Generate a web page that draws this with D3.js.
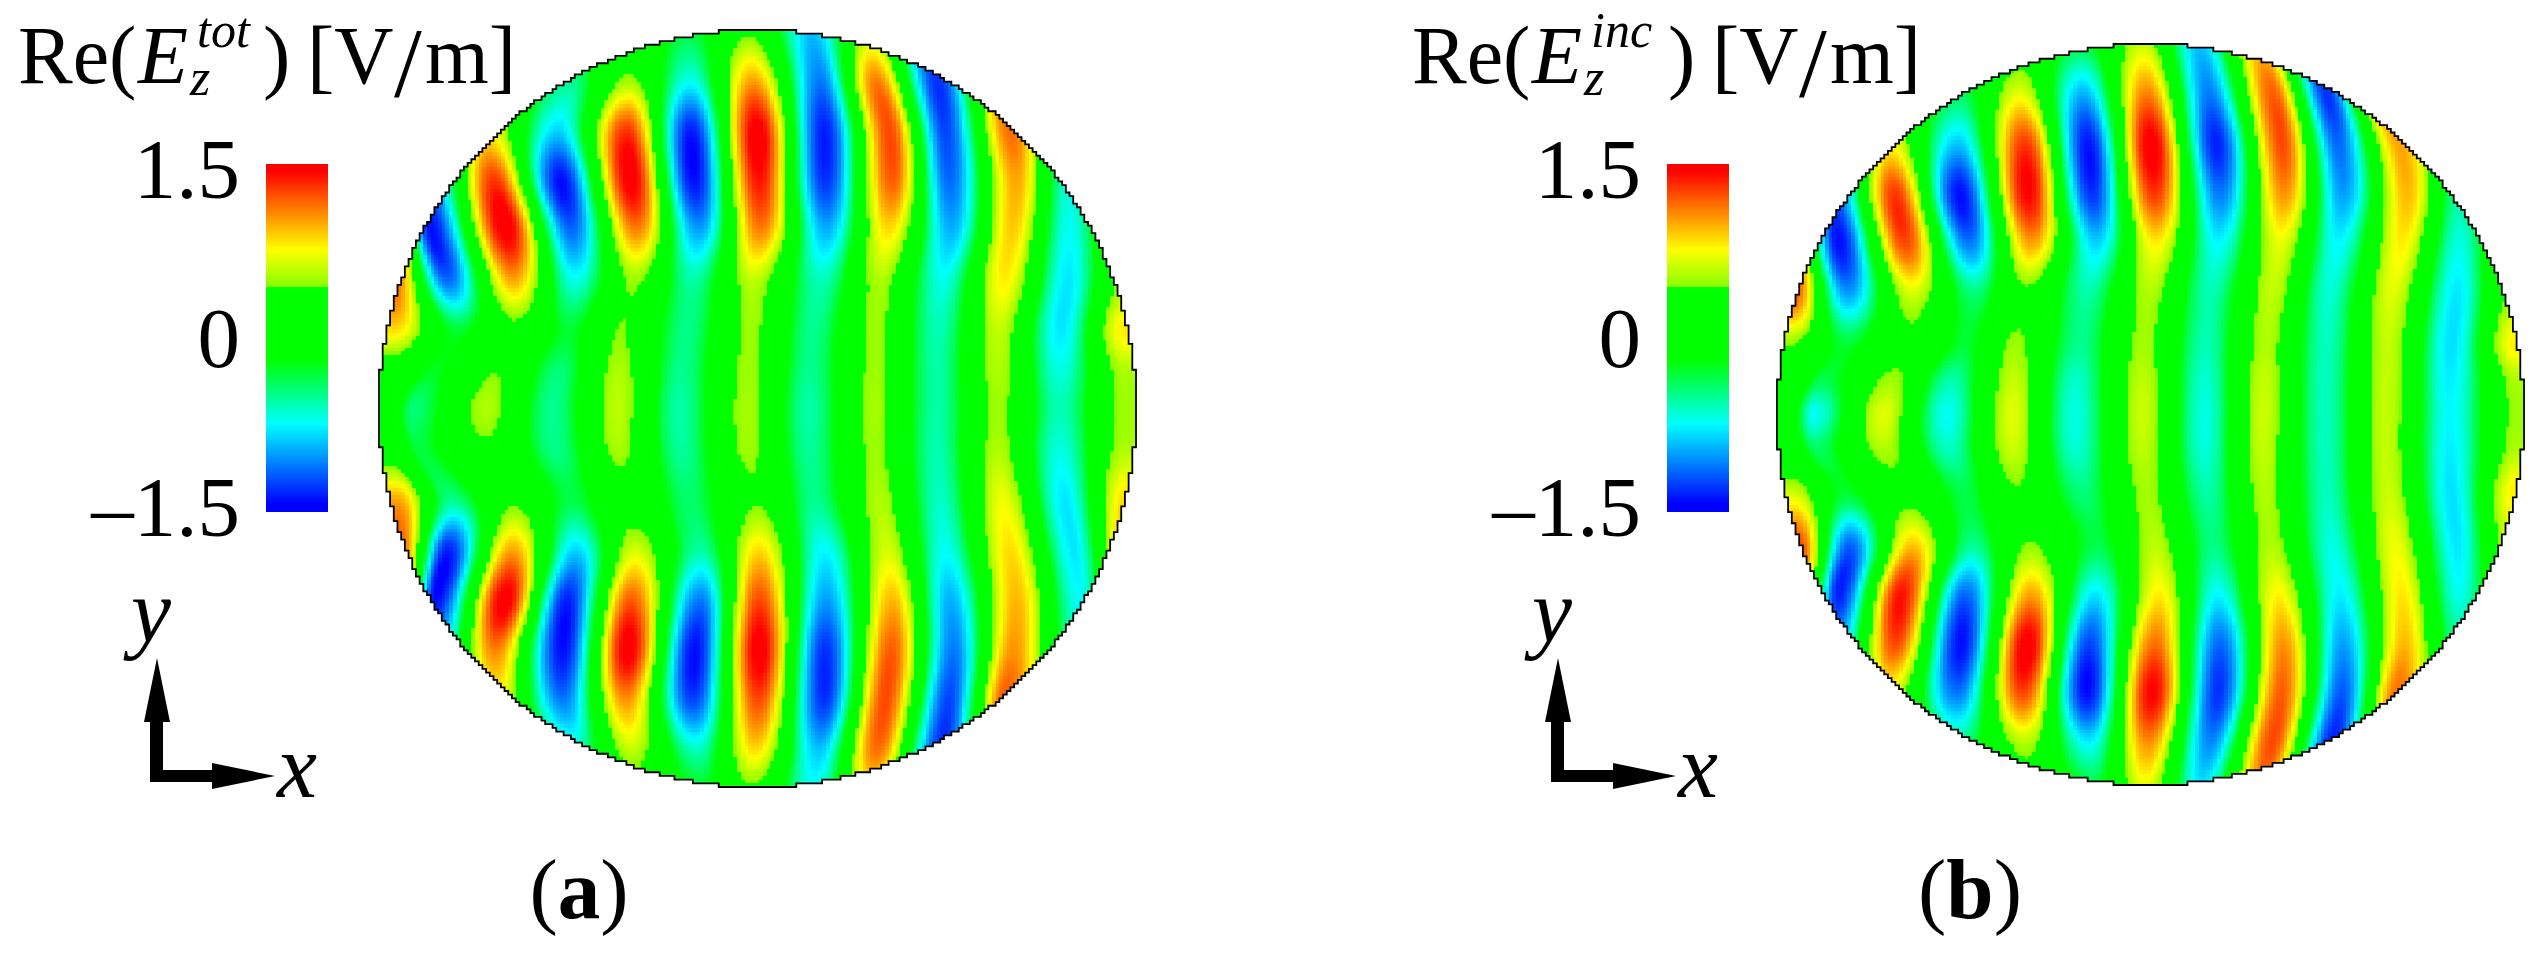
<!DOCTYPE html>
<html lang="en">
  <head>
    <meta charset="UTF-8" />
    <title>Re(Ez) field maps</title>
    <style>
      body {
        margin: 0;
        background: #fff;
      }
      svg {
        display: block;
      }
      text {
        font-family: "Liberation Serif", serif;
        fill: #000;
      }
      image {
        image-rendering: pixelated;
      }
    </style>
  </head>

  <body>
    <script src="https://cdn.jsdelivr.net/npm/d3@7"></script>
    <script>
      // Field: each crest/trough of the pattern is one line of
      // the tables below, one value per row of rowsA / rowsB.
      // crestX = where the crest sits across the disc, crestAmp = field value on it (V/m).
      const rowsA = [0, 50, 100, 150, 200, 250, 300, 340, 378, 420, 470, 520, 570, 620, 670, 720, 757];
      const crestXA = [
        [14, 14, 14, 14, 14, 14, 15, 14, 12, 13, 18, 21, 21, 21, 21, 21, 21],
        [50, 50, 50, 50, 52, 68, 78, 55, 34, 40, 72, 68, 57, 60, 60, 60, 60],
        [108, 108, 108, 115, 127, 134, 134, 118, 108, 110, 133, 133, 126, 116, 118, 118, 118],
        [190, 190, 179, 182, 192, 196, 190, 180, 174, 178, 192, 197, 188, 184, 184, 195, 195],
        [252, 250, 248, 252, 257, 255, 242, 240, 239, 240, 250, 256, 252, 249, 247, 252, 256],
        [310, 311, 312, 315, 319, 314, 308, 303, 301, 303, 310, 321, 321, 316, 314, 318, 322],
        [370, 374, 378, 380, 381, 374, 372, 369, 368, 369, 378, 380, 380, 380, 379, 376, 372],
        [433, 441, 445, 446, 447, 442, 434, 431, 430, 431, 436, 445, 447, 446, 445, 440, 435],
        [490, 497, 510, 513, 509, 501, 497, 496, 496, 496, 501, 508, 513, 512, 506, 498, 492],
        [545, 558, 566, 570, 572, 564, 559, 558, 558, 558, 561, 566, 571, 574, 570, 562, 550],
        [610, 620, 631, 637, 633, 625, 620, 619, 620, 619, 624, 631, 637, 634, 626, 620, 615],
        [690, 690, 690, 690, 690, 689, 682, 681, 681, 681, 686, 695, 700, 700, 700, 700, 700],
        [745, 745, 745, 745, 745, 745, 745, 746, 746, 746, 746, 745, 745, 745, 745, 745, 745],
      ];
      const crestAmpA = [
        [1, 1, 1, 1, 1.2, 1.2, 0.85, 0.2, 0.05, 0.2, 1.0, 1.2, 1.2, 1.2, 1.2, 1.2, 1.2],
        [-1, -1, -1, -1.05, -1.4, -1.15, -0.3, -0.25, -0.45, -0.32, -0.5, -1.35, -1.4, -0.8, -0.5, -0.5, -0.5],
        [0.5, 0.5, 0.75, 1.3, 1.5, 1.0, 0.35, 0.43, 0.55, 0.4, 0.4, 1.0, 1.5, 1.1, 0.75, 0.6, 0.6],
        [-0.3, -0.5, -0.85, -1.4, -1.15, -0.7, -0.3, -0.45, -0.5, -0.48, -0.35, -0.85, -1.35, -1.4, -1.1, -0.6, -0.4],
        [0.1, 0.5, 1.3, 1.5, 1.1, 0.5, 0.45, 0.54, 0.58, 0.52, 0.3, 0.65, 1.2, 1.5, 1.05, 0.6, 0.3],
        [-0.3, -0.7, -1.35, -1.4, -1.0, -0.55, -0.48, -0.5, -0.55, -0.52, -0.42, -0.55, -1.1, -1.4, -1.25, -0.6, -0.25],
        [0.35, 1.0, 1.5, 1.4, 1.1, 0.6, 0.5, 0.5, 0.52, 0.5, 0.42, 0.85, 1.25, 1.5, 1.25, 0.85, 0.4],
        [-0.9, -1.1, -1.35, -1.3, -0.95, -0.6, -0.5, -0.5, -0.55, -0.52, -0.5, -0.75, -1.0, -1.3, -1.3, -0.9, -0.7],
        [0.5, 1.1, 1.25, 1.2, 0.85, 0.55, 0.5, 0.5, 0.52, 0.5, 0.55, 0.65, 0.95, 1.2, 1.25, 1.15, 0.8],
        [-1, -1.3, -1.25, -1.15, -0.95, -0.7, -0.58, -0.55, -0.55, -0.57, -0.62, -0.72, -0.95, -1.1, -1.25, -1.3, -1],
        [1, 1, 1.15, 1.0, 0.9, 0.8, 0.6, 0.55, 0.5, 0.55, 0.72, 0.85, 0.95, 1.05, 1.2, 1, 1],
        [-0.6, -0.6, -0.6, -0.65, -0.72, -0.8, -0.8, -0.68, -0.58, -0.68, -0.8, -0.8, -0.72, -0.6, -0.6, -0.6, -0.6],
        [0.5, 0.5, 0.5, 0.5, 0.5, 0.5, 0.8, 0.55, 0.5, 0.55, 0.85, 0.9, 0.5, 0.5, 0.5, 0.5, 0.5],
      ];

      const rowsB = [0, 50, 100, 150, 200, 250, 300, 335, 370, 405, 450, 500, 550, 600, 650, 700, 741];
      const crestXB = [
        [14, 14, 14, 14, 14, 15, 15, 14, 12, 13, 16, 21, 21, 21, 21, 21, 21],
        [55, 55, 55, 57, 62, 70, 68, 46, 36, 40, 68, 72, 62, 60, 60, 60, 60],
        [108, 108, 112, 118, 128, 135, 130, 115, 107, 108, 128, 135, 124, 118, 112, 112, 112],
        [182, 182, 181, 183, 192, 197, 188, 175, 170, 172, 188, 195, 188, 184, 180, 180, 180],
        [242, 243, 248, 251, 254, 248, 238, 237, 236, 236, 240, 252, 254, 250, 246, 248, 252],
        [303, 306, 311, 315, 319, 310, 303, 299, 298, 299, 306, 320, 318, 312, 310, 312, 316],
        [366, 370, 374, 377, 378, 372, 367, 366, 366, 366, 370, 378, 382, 378, 375, 371, 368],
        [422, 432, 439, 443, 441, 433, 429, 428, 428, 428, 431, 436, 441, 443, 441, 433, 424],
        [482, 496, 505, 507, 503, 495, 489, 487, 486, 486, 488, 494, 501, 506, 504, 495, 485],
        [535, 550, 561, 566, 561, 552, 549, 548, 548, 548, 550, 555, 563, 566, 565, 555, 540],
        [590, 600, 622, 630, 625, 615, 611, 610, 609, 609, 612, 618, 625, 627, 620, 610, 600],
        [690, 690, 690, 684, 682, 680, 675, 673, 673, 673, 675, 680, 682, 682, 682, 682, 682],
        [735, 735, 735, 735, 735, 733, 738, 740, 740, 740, 737, 733, 733, 733, 733, 733, 733],
      ];
      const crestAmpB = [
        [1, 1, 1, 1, 1.1, 1.25, 0.45, 0.15, 0.05, 0.1, 0.65, 1.25, 1.2, 1.2, 1.2, 1.2, 1.2],
        [-1, -1, -1, -1.15, -1.4, -1.0, -0.3, -0.35, -0.72, -0.4, -0.3, -1.15, -1.35, -0.9, -0.5, -0.5, -0.5],
        [0.5, 0.5, 0.75, 1.3, 1.25, 0.65, 0.36, 0.5, 0.68, 0.55, 0.35, 0.9, 1.4, 1.25, 0.7, 0.6, 0.6],
        [-0.4, -0.4, -0.9, -1.4, -1.1, -0.45, -0.3, -0.55, -0.72, -0.6, -0.35, -0.5, -1.15, -1.4, -1.1, -0.5, -0.5],
        [0.2, 0.7, 1.3, 1.45, 1.0, 0.38, 0.5, 0.6, 0.68, 0.62, 0.42, 0.46, 1.0, 1.5, 1.25, 0.55, 0.3],
        [-0.3, -0.95, -1.38, -1.3, -0.85, -0.55, -0.5, -0.62, -0.68, -0.64, -0.45, -0.35, -0.8, -1.25, -1.4, -0.75, -0.3],
        [0.6, 1.1, 1.5, 1.3, 0.8, 0.55, 0.52, 0.58, 0.62, 0.58, 0.52, 0.58, 0.8, 1.15, 1.45, 1.05, 0.7],
        [-0.9, -1.1, -1.35, -1.1, -0.75, -0.58, -0.58, -0.64, -0.68, -0.66, -0.55, -0.48, -0.75, -1.15, -1.3, -1.05, -0.8],
        [0.9, 1.2, 1.25, 1.05, 0.7, 0.6, 0.55, 0.6, 0.62, 0.6, 0.55, 0.55, 0.78, 1.05, 1.2, 1.25, 1.1],
        [-1.1, -1.3, -1.15, -1.0, -0.75, -0.65, -0.6, -0.6, -0.6, -0.6, -0.6, -0.68, -0.78, -1.0, -1.2, -1.35, -1.2],
        [1, 1, 1.0, 0.95, 0.8, 0.68, 0.6, 0.6, 0.6, 0.6, 0.62, 0.72, 0.82, 0.95, 1.15, 1, 1],
        [-0.6, -0.6, -0.6, -0.55, -0.68, -0.8, -0.82, -0.78, -0.75, -0.78, -0.82, -0.8, -0.7, -0.5, -0.5, -0.5, -0.5],
        [0.5, 0.5, 0.5, 0.5, 0.5, 0.45, 0.8, 0.55, 0.5, 0.55, 0.8, 0.6, 0.5, 0.5, 0.5, 0.5, 0.5],
      ];

      const legendTicks = [1.5, 0, -1.5];
      const legendTickLabels = ["1.5", "0", "–1.5"];

      // colour bar stops, value -> colour
      const colorValues = [-1.5, -1.43, -0.74, -0.19, 0.44, 0.4401, 0.76, 1.44, 1.5];
      const colorStops = ["#0000ff", "#0000ff", "#00ffff", "#00ff00", "#00ff00", "#86ff00", "#ffff00", "#ff0000", "#ff0000"];

      const color = d3.scaleLinear().domain(colorValues).range(colorStops).clamp(true);

      const svg = d3.select("body").append("svg").attr("width", 2535).attr("height", 955);
      const CELL = 3.7;

      // Value at a row between two table rows (Catmull-Rom through the table)
      function atRow(rows, values, y) {
        const n = rows.length;
        const i = Math.max(0, Math.min(n - 2, d3.bisectRight(rows, y) - 1));
        const h = rows[i + 1] - rows[i];
        const t = (y - rows[i]) / h;
        const i0 = Math.max(0, i - 1);
        const i3 = Math.min(n - 1, i + 2);
        const m1 = ((values[i + 1] - values[i0]) / (rows[i + 1] - rows[i0])) * h;
        const m2 = ((values[i3] - values[i]) / (rows[i3] - rows[i])) * h;
        const t2 = t * t;
        const t3 = t2 * t;
        return (
          (2 * t3 - 3 * t2 + 1) * values[i] +
          (t3 - 2 * t2 + t) * m1 +
          (-2 * t3 + 3 * t2) * values[i + 1] +
          (t3 - t2) * m2
        );
      }

      function drawField(p) {
        const x = d3.scaleLinear().domain([0, p.width]).range([p.left, p.left + p.width]);
        const y = d3.scaleLinear().domain([0, p.height]).range([p.top, p.top + p.height]);
        const nx = Math.ceil(p.width / CELL);
        const ny = Math.ceil(p.height / CELL);
        const cw = p.width / nx;
        const ch = p.height / ny;

        const canvas = d3.create("canvas").attr("width", nx).attr("height", ny).node();
        const ctx = canvas.getContext("2d");
        const inside = [];

        d3.range(ny).forEach((j) => {
          const yy = (j + 0.5) * ch;
          const xs = p.crestX.map((c) => atRow(p.rows, c, yy));
          const amps = p.crestAmp.map((c) => atRow(p.rows, c, yy));
          inside[j] = [];
          d3.range(nx).forEach((i) => {
            const xx = (i + 0.5) * cw;
            const dx = (xx - p.width / 2) / (p.width / 2);
            const dy = (yy - p.height / 2) / (p.height / 2);
            inside[j][i] = dx * dx + dy * dy <= 1;
            if (!inside[j][i]) return;
            const k = d3.bisectRight(xs, xx);
            let v;
            if (k === 0) v = amps[0];
            else if (k === xs.length) v = amps[k - 1];
            else {
              const t = (xx - xs[k - 1]) / (xs[k] - xs[k - 1]);
              const s = (1 - Math.cos(Math.PI * t)) / 2;
              v = amps[k - 1] + (amps[k] - amps[k - 1]) * s;
            }
            ctx.fillStyle = color(v);
            ctx.fillRect(i, j, 1, 1);
          });
        });

        svg
          .append("image")
          .attr("x", x(0))
          .attr("y", y(0))
          .attr("width", p.width)
          .attr("height", p.height)
          .attr("preserveAspectRatio", "none")
          .attr("href", canvas.toDataURL());

        // stair-step outline round the mesh cells
        const path = d3.path();
        const isIn = (i, j) => j >= 0 && j < ny && i >= 0 && i < nx && inside[j][i];
        d3.range(ny).forEach((j) => {
          d3.range(nx).forEach((i) => {
            if (!isIn(i, j)) return;
            const x0 = x(i * cw);
            const x1 = x((i + 1) * cw);
            const y0 = y(j * ch);
            const y1 = y((j + 1) * ch);
            if (!isIn(i, j - 1)) {
              path.moveTo(x0, y0);
              path.lineTo(x1, y0);
            }
            if (!isIn(i, j + 1)) {
              path.moveTo(x0, y1);
              path.lineTo(x1, y1);
            }
            if (!isIn(i - 1, j)) {
              path.moveTo(x0, y0);
              path.lineTo(x0, y1);
            }
            if (!isIn(i + 1, j)) {
              path.moveTo(x1, y0);
              path.lineTo(x1, y1);
            }
          });
        });
        svg
          .append("path")
          .attr("d", path.toString())
          .attr("fill", "none")
          .attr("stroke", "#000")
          .attr("stroke-width", 1.8)
          .attr("stroke-linecap", "square");
      }

      function drawLegend(dx) {
        const g = svg.append("g").attr("transform", `translate(${dx}, 0)`);
        const id = `legend-${dx}`;

        const grad = svg
          .append("defs")
          .append("linearGradient")
          .attr("id", id)
          .attr("x1", 0)
          .attr("x2", 0)
          .attr("y1", 1)
          .attr("y2", 0);
        grad
          .selectAll("stop")
          .data(colorValues)
          .join("stop")
          .attr("offset", (d) => (d + 1.5) / 3)
          .attr("stop-color", (d, i) => colorStops[i]);

        g.append("rect")
          .attr("x", 266)
          .attr("y", 164)
          .attr("width", 62)
          .attr("height", 348)
          .attr("fill", `url(#${id})`);

        const scale = d3.scaleLinear().domain([-1.5, 1.5]).range([508, 170]);
        const axis = d3
          .axisLeft(scale)
          .tickValues(legendTicks)
          .tickSize(0)
          .tickPadding(26)
          .tickFormat((d, i) => legendTickLabels[i]);
        const ag = g.append("g").attr("transform", "translate(266, 0)").call(axis);
        ag.select(".domain").remove();
        ag.selectAll("text")
          .style("font-family", '"Liberation Serif", serif')
          .style("font-size", "85px")
          .attr("fill", "#000");

        // x / y arrows
        g.append("path")
          .attr(
            "d",
            "M150,782V722H144L157,658L170,722H163V770H212V763L275,776L212,789V782Z"
          )
          .attr("fill", "#000");
        g.append("text")
          .attr("x", 131)
          .attr("y", 642)
          .style("font-size", "90px")
          .style("font-style", "italic")
          .text("y");
        g.append("text")
          .attr("x", 277)
          .attr("y", 797)
          .style("font-size", "90px")
          .style("font-style", "italic")
          .text("x");
      }

      // title is one text element, the sub/superscripts and the tall slash are tspans
      function drawTitle(t) {
        const text = svg.append("text");
        const piece = (x, y, size, italic, s) =>
          text
            .append("tspan")
            .attr("x", x)
            .attr("y", y)
            .style("font-size", `${size}px`)
            .style("font-style", italic ? "italic" : "normal")
            .text(s);
        piece(t.x, 83, 82, false, "Re(");
        piece(t.x + 120, 83, 82, true, "E");
        piece(t.x + t.supX, 47, 50, true, t.sup);
        piece(t.x + 172, 95, 52, true, "z");
        piece(t.x + t.closeX, 83, 82, false, ")");
        piece(t.x + t.closeX + 44, 83, 82, false, "[V");
        piece(t.x + t.closeX + 131, 96, 100, false, "/");
        piece(t.x + t.closeX + 162, 83, 82, false, "m]");
      }

      function drawCaption(cx, letter) {
        const t = svg
          .append("text")
          .attr("x", cx)
          .attr("y", 918)
          .attr("text-anchor", "middle")
          .style("font-size", "85px");
        t.append("tspan").text("(");
        t.append("tspan").style("font-weight", "bold").text(letter);
        t.append("tspan").text(")");
      }

      drawField({
        rows: rowsA,
        crestX: crestXA,
        crestAmp: crestAmpA,
        left: 379,
        top: 30,
        width: 757,
        height: 757,
      });
      drawField({
        rows: rowsB,
        crestX: crestXB,
        crestAmp: crestAmpB,
        left: 1777,
        top: 44,
        width: 747,
        height: 741,
      });

      drawLegend(0);
      drawLegend(1401);

      drawTitle({ x: 18, supX: 179, sup: "tot", closeX: 245 });
      drawTitle({ x: 1412, supX: 179, sup: "inc", closeX: 256 });

      drawCaption(579, "a");
      drawCaption(1970, "b");
    </script>
  </body>
</html>
